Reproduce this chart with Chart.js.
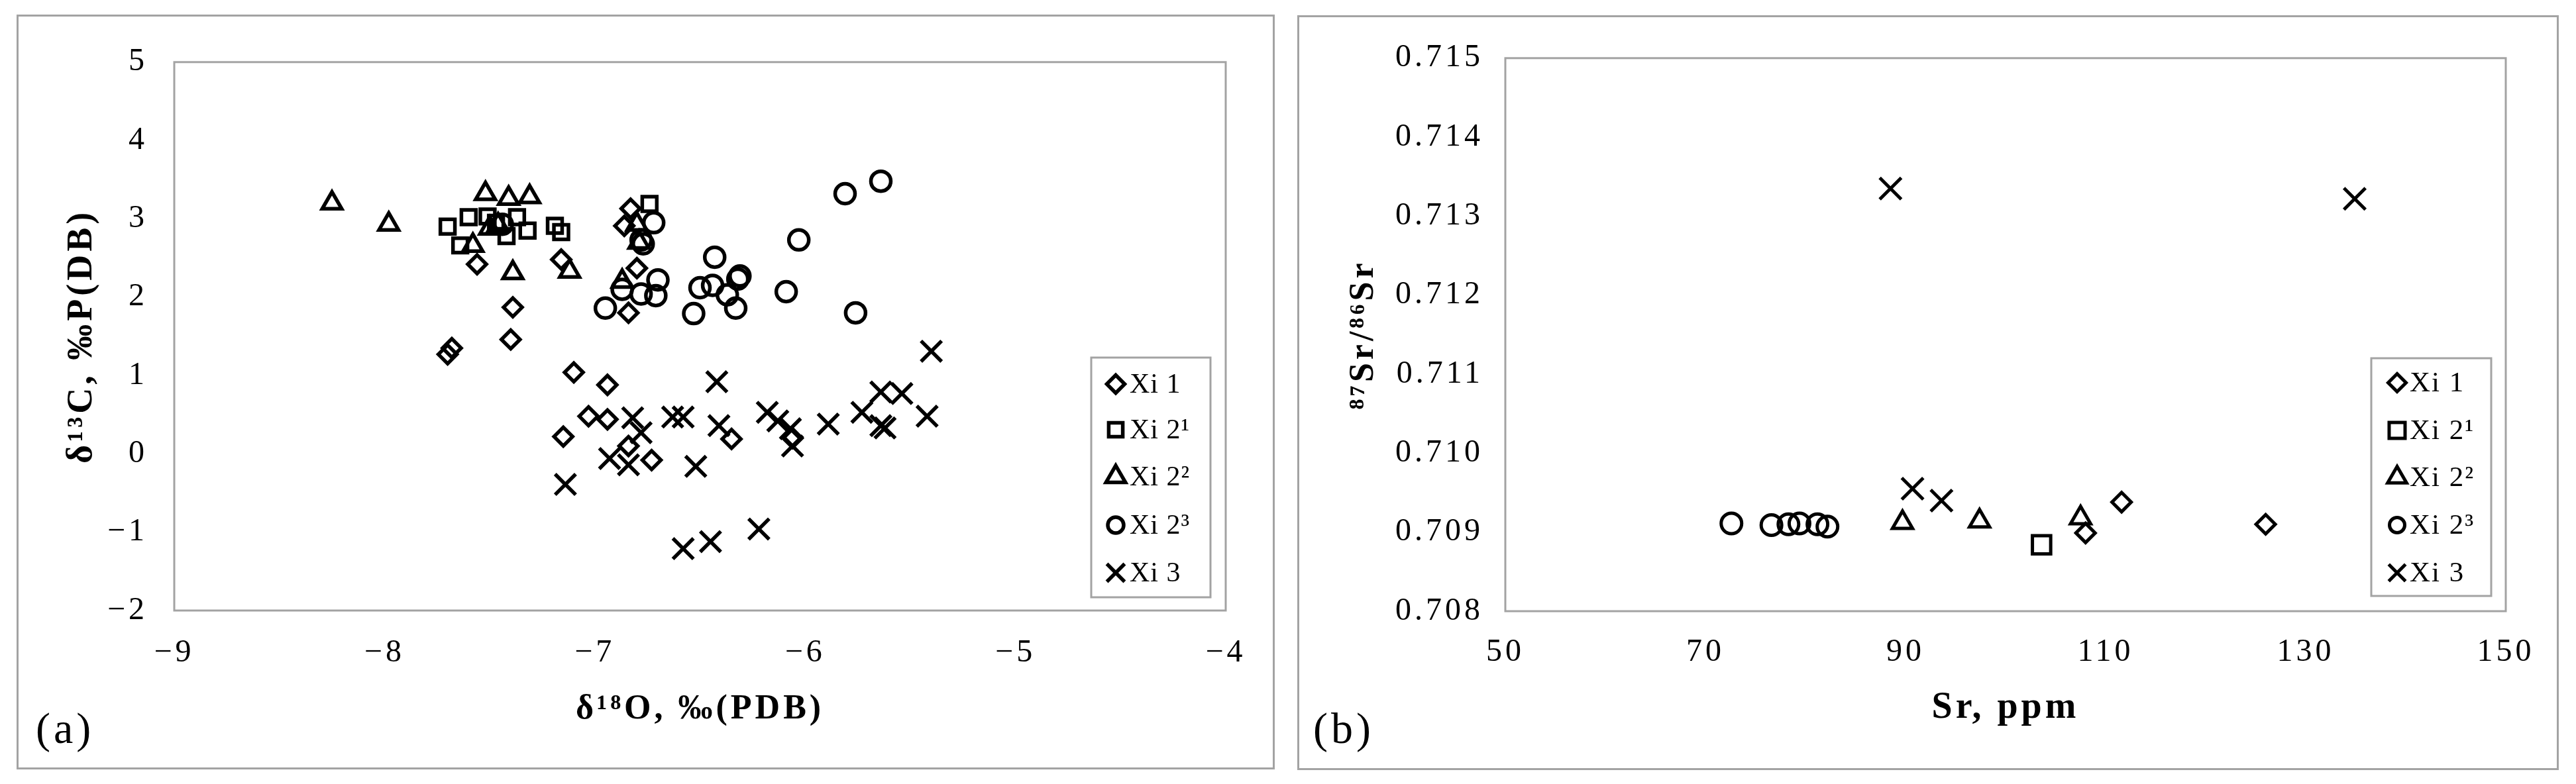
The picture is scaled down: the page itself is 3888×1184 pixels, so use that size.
<!DOCTYPE html>
<html><head><meta charset="utf-8">
<script src="https://cdn.jsdelivr.net/npm/chart.js@4/dist/chart.umd.min.js"></script>
<style>
html,body{margin:0;padding:0;background:#fff;}
body{width:3888px;height:1184px;position:relative;overflow:hidden;}
.panel{position:absolute;box-sizing:border-box;border:3px solid #a3a3a3;background:#fff;}
#pa{left:25px;top:22px;width:1899px;height:1140px;}
#pb{left:1958px;top:23px;width:1904px;height:1140px;}
canvas{display:block;}
</style></head><body>
<div class="panel" id="pa"><canvas id="ca" width="1893" height="1134"></canvas></div>
<div class="panel" id="pb"><canvas id="cb" width="1898" height="1134"></canvas></div>
<script>
// ---------- data: panel (a) δ18O vs δ13C ----------
const seriesNames = ['Xi 1', 'Xi 2\u00B9', 'Xi 2\u00B2', 'Xi 2\u00B3', 'Xi 3'];
const seriesStyles = ['rectRot', 'rect', 'triangle', 'circle', 'crossRot'];

const a_xi1_O  = [-7.56, -7.39, -7.40, -7.68, -7.70, -7.16, -6.83, -6.86, -6.80, -6.84, -7.10, -6.94, -7.03, -6.94, -7.15, -6.84, -6.73, -6.35, -6.06];
const a_xi1_C  = [2.42, 1.87, 1.46, 1.35, 1.27, 2.48, 3.13, 2.91, 2.37, 1.80, 1.04, 0.88, 0.48, 0.44, 0.22, 0.10, -0.08, 0.19, 0.20];
const a_xi21_O = [-7.70, -7.60, -7.51, -7.64, -7.37, -7.32, -7.42, -7.47, -7.19, -7.16, -6.74];
const a_xi21_C = [2.90, 3.02, 3.03, 2.66, 3.02, 2.85, 2.78, 2.95, 2.91, 2.83, 3.19];
const a_xi22_O = [-8.25, -7.98, -7.52, -7.41, -7.31, -7.58, -7.39, -7.46, -7.50, -7.12, -6.79, -6.80, -6.87];
const a_xi22_C = [3.20, 2.93, 3.32, 3.26, 3.28, 2.66, 2.31, 2.92, 2.88, 2.33, 2.70, 2.93, 2.20];
const a_xi23_O = [-7.44, -6.72, -6.78, -6.77, -6.87, -6.70, -6.78, -6.71, -6.95, -6.43, -6.50, -6.44, -6.31, -6.32, -6.37, -6.33, -6.53, -6.03, -6.09, -5.81, -5.64, -5.76];
const a_xi23_C = [2.93, 2.95, 2.73, 2.68, 2.10, 2.22, 2.04, 2.02, 1.86, 2.51, 2.12, 2.15, 2.27, 2.23, 2.03, 1.86, 1.79, 2.73, 2.07, 3.32, 3.48, 1.80];
const a_xi3_O  = [-6.42, -7.14, -6.82, -6.78, -6.93, -6.84, -6.63, -6.58, -6.52, -6.41, -6.18, -6.13, -6.07, -6.06, -5.89, -6.58, -6.45, -6.22, -5.73, -5.64, -5.54, -5.64, -5.62, -5.42, -5.40];
const a_xi3_C  = [0.92, -0.39, 0.46, 0.27, -0.06, -0.14, 0.47, 0.47, -0.16, 0.36, 0.53, 0.42, 0.32, 0.10, 0.38, -1.21, -1.12, -0.96, 0.53, 0.79, 0.77, 0.36, 0.33, 0.48, 1.31];
const a_xTicks = [-9, -8, -7, -6, -5, -4];
const a_yTicks = [-2, -1, 0, 1, 2, 3, 4, 5];

// ---------- data: panel (b) Sr vs 87Sr/86Sr ----------
const b_xi1_Sr  = [108.0, 111.6, 126.0];
const b_xi1_R   = [0.70899, 0.70938, 0.70910];
const b_xi21_Sr = [103.6];
const b_xi21_R  = [0.70884];
const b_xi22_Sr = [89.7, 97.4, 107.5];
const b_xi22_R  = [0.70912, 0.70914, 0.70918];
const b_xi23_Sr = [72.6, 76.6, 78.3, 79.4, 81.2, 82.2];
const b_xi23_R  = [0.70911, 0.70909, 0.70910, 0.70911, 0.70910, 0.70907];
const b_xi3_Sr  = [88.5, 90.7, 93.6, 134.9];
const b_xi3_R   = [0.71335, 0.70955, 0.70940, 0.71322];
const b_xTicks = [50, 70, 90, 110, 130, 150];
const b_yTicks = [0.708, 0.709, 0.710, 0.711, 0.712, 0.713, 0.714, 0.715];

const SERIF = "'Liberation Serif', 'Times New Roman', serif";
const pts = (xs, ys) => xs.map((x, i) => ({x: x, y: ys[i]}));

// own marker drawer (same geometry as Chart.js point styles) for the legend
function marker(ctx, style, r, x, y) {
  ctx.beginPath();
  const s2 = Math.SQRT1_2;
  if (style === 'circle') { ctx.arc(x, y, r, 0, Math.PI * 2); }
  else if (style === 'rect') { const s = s2 * r; ctx.rect(x - s, y - s, 2 * s, 2 * s); }
  else if (style === 'rectRot') { ctx.moveTo(x - r, y); ctx.lineTo(x, y - r); ctx.lineTo(x + r, y); ctx.lineTo(x, y + r); ctx.closePath(); }
  else if (style === 'triangle') {
    let a = 0; ctx.moveTo(x + Math.sin(a) * r, y - Math.cos(a) * r);
    a += 2 * Math.PI / 3; ctx.lineTo(x + Math.sin(a) * r, y - Math.cos(a) * r);
    a += 2 * Math.PI / 3; ctx.lineTo(x + Math.sin(a) * r, y - Math.cos(a) * r);
    ctx.closePath();
  } else if (style === 'crossRot') {
    const o = s2 * r; ctx.moveTo(x - o, y - o); ctx.lineTo(x + o, y + o); ctx.moveTo(x + o, y - o); ctx.lineTo(x - o, y + o);
  }
  ctx.stroke();
}

const spacingPlugin = {
  id: 'spacing',
  beforeDraw(chart, args, opts) { chart.ctx.letterSpacing = opts.ls || '0px'; }
};
const framePlugin = {
  id: 'frame',
  beforeDatasetsDraw(chart) {
    const {ctx, chartArea: a} = chart;
    ctx.save(); ctx.strokeStyle = '#a3a3a3'; ctx.lineWidth = 3;
    ctx.strokeRect(a.left, a.top, a.right - a.left, a.bottom - a.top);
    ctx.restore();
  }
};
const boxLegendPlugin = {
  id: 'boxLegend',
  afterDraw(chart, args, o) {
    const {ctx, chartArea: a} = chart;
    const x0 = a.right - o.right - o.w, y0 = a.bottom - o.bottom - o.h;
    ctx.save();
    ctx.fillStyle = '#fff'; ctx.fillRect(x0, y0, o.w, o.h);
    ctx.strokeStyle = '#a3a3a3'; ctx.lineWidth = 3; ctx.strokeRect(x0, y0, o.w, o.h);
    chart.data.datasets.forEach((ds, i) => {
      const cy = y0 + o.rows[i];
      ctx.strokeStyle = '#000'; ctx.lineWidth = o.lw; ctx.lineJoin = 'miter';
      marker(ctx, ds.pointStyle, o.r[i], x0 + o.mx, cy);
      ctx.fillStyle = '#000'; ctx.letterSpacing = o.ls;
      ctx.font = o.size + 'px ' + SERIF; ctx.textAlign = 'left'; ctx.textBaseline = 'middle';
      ctx.fillText(ds.label, x0 + o.tx, cy + 2);
    });
    ctx.restore();
  }
};
const panelLabelPlugin = {
  id: 'panelLabel',
  afterDraw(chart, args, o) {
    const ctx = chart.ctx;
    ctx.save(); ctx.fillStyle = '#000'; ctx.font = o.size + 'px ' + SERIF;
    ctx.letterSpacing = o.ls; ctx.textAlign = 'left'; ctx.textBaseline = 'middle';
    ctx.fillText(o.text, o.x, o.y); ctx.restore();
  }
};

function makeDatasets(list, radii, lw) {
  return list.map((d, i) => ({
    label: seriesNames[i], data: d, pointStyle: seriesStyles[i], pointRadius: radii[i],
    pointHoverRadius: radii[i], pointBorderWidth: lw, pointBorderColor: '#000',
    pointBackgroundColor: 'rgba(0,0,0,0)', showLine: false
  }));
}
function axis(opts) {
  return {
    type: 'linear', min: opts.ticks[0], max: opts.ticks[opts.ticks.length - 1],
    afterBuildTicks: s => { s.ticks = opts.ticks.map(v => ({value: v})); },
    afterFit: s => { if (opts.w) s.width = opts.w; if (opts.h) s.height = opts.h; },
    grid: {display: false, drawTicks: false}, border: {display: false},
    ticks: {autoSkip: false, maxRotation: 0, minRotation: 0, padding: opts.pad, color: '#000',
            font: {family: SERIF, size: opts.tsize}, callback: opts.fmt},
    title: {display: true, text: opts.title, color: '#000',
            font: {family: SERIF, size: opts.titleSize, weight: 'bold'}, padding: opts.titlePad}
  };
}

Chart.defaults.animation = false;

new Chart(document.getElementById('ca'), {
  type: 'scatter',
  data: {datasets: makeDatasets([
    pts(a_xi1_O, a_xi1_C), pts(a_xi21_O, a_xi21_C), pts(a_xi22_O, a_xi22_C),
    pts(a_xi23_O, a_xi23_C), pts(a_xi3_O, a_xi3_C)], [14, 15.5, 17, 15, 22], 5.5)},
  options: {
    responsive: false, animation: false,
    layout: {padding: {left: 0, top: 55, right: 71, bottom: 0}},
    scales: {
      x: axis({ticks: a_xTicks, h: 237, pad: 36, tsize: 48, fmt: v => String(v).replace('-', '\u2212'),
               title: '\u03B4\u00B9\u2078O, \u2030(PDB)', titleSize: 52, titlePad: {top: 0, bottom: 56}}),
      y: axis({ticks: a_yTicks, w: 235, pad: 40, tsize: 48, fmt: v => String(v).replace('-', '\u2212'),
               title: '\u03B4\u00B9\u00B3C, \u2030P(DB)', titleSize: 54, titlePad: {top: 64, bottom: 0}})
    },
    plugins: {
      legend: {display: false}, tooltip: {enabled: false},
      spacing: {ls: '5px'},
      boxLegend: {w: 180, h: 362, right: 23, bottom: 20, rows: [40, 109, 180, 253, 325], mx: 37, tx: 58,
                  r: [13.5, 15, 17, 12, 19], lw: 5.5, size: 42, ls: '1px'},
      panelLabel: {text: '(a)', x: 26, y: 1080, size: 66, ls: '5px'}
    }
  },
  plugins: [spacingPlugin, framePlugin, boxLegendPlugin, panelLabelPlugin]
});

new Chart(document.getElementById('cb'), {
  type: 'scatter',
  data: {datasets: makeDatasets([
    pts(b_xi1_Sr, b_xi1_R), pts(b_xi21_Sr, b_xi21_R), pts(b_xi22_Sr, b_xi22_R),
    pts(b_xi23_Sr, b_xi23_R), pts(b_xi3_Sr, b_xi3_R)], [14.5, 19.5, 17.5, 15.5, 23], 5)},
  options: {
    responsive: false, animation: false,
    layout: {padding: {left: 0, top: 55, right: 77, bottom: 0}},
    scales: {
      x: axis({ticks: b_xTicks, h: 237, pad: 34, tsize: 48, fmt: v => String(v),
               title: 'Sr, ppm', titleSize: 56, titlePad: {top: 0, bottom: 57}}),
      y: axis({ticks: b_yTicks, w: 311, pad: 33, tsize: 48, fmt: v => Number(v).toFixed(3),
               title: '\u2078\u2077Sr/\u2078\u2076Sr', titleSize: 52, titlePad: {top: 66, bottom: 0}})
    },
    plugins: {
      legend: {display: false}, tooltip: {enabled: false},
      spacing: {ls: '5px'},
      boxLegend: {w: 181, h: 359, right: 22, bottom: 23, rows: [37, 109, 180, 252, 324], mx: 39, tx: 58,
                  r: [13.5, 17, 16.5, 11.5, 18], lw: 5, size: 43, ls: '2px'},
      panelLabel: {text: '(b)', x: 21, y: 1079, size: 66, ls: '5px'}
    }
  },
  plugins: [spacingPlugin, framePlugin, boxLegendPlugin, panelLabelPlugin]
});
</script>
</body></html>
